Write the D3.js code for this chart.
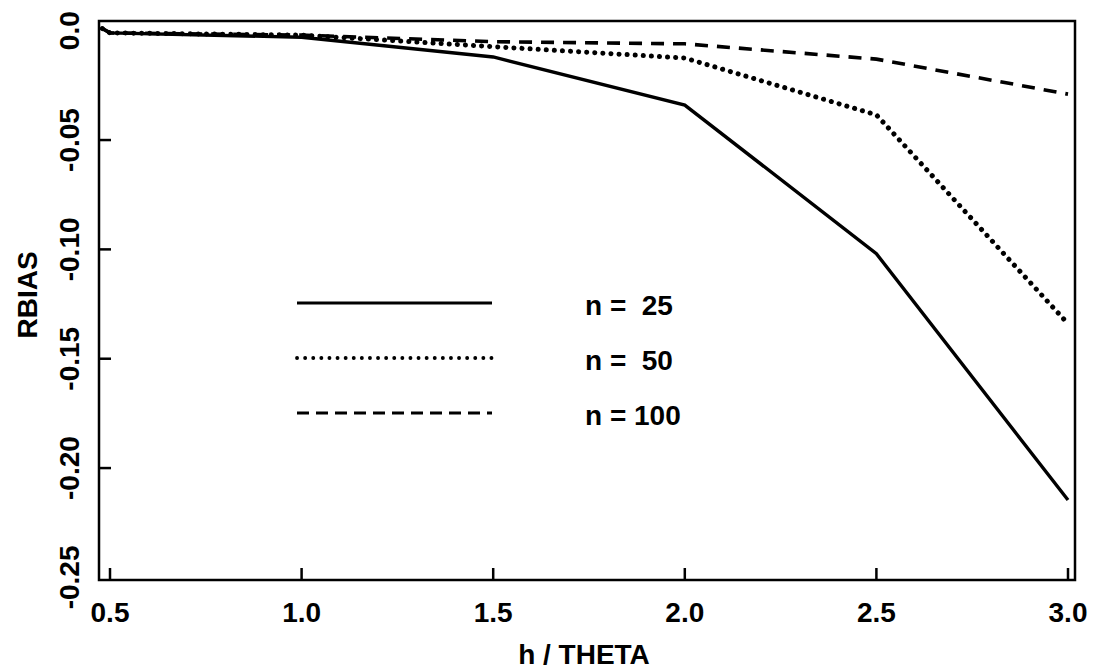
<!DOCTYPE html>
<html lang="en">
<head>
<meta charset="utf-8">
<title>RBIAS vs h / THETA</title>
<script src="https://cdn.jsdelivr.net/npm/d3@7"></script>
<style>
  body { margin: 0; background: #fff; }
  text { font-family: "Liberation Sans", Arial, sans-serif; fill: #000; font-weight: bold; }
  .frame { fill: none; stroke: #000; stroke-width: 2.5; }
  .tick-line { stroke: #000; stroke-width: 2.5; }
  .curve { fill: none; stroke: #000; }
</style>
</head>
<body>
<div id="chart"></div>
<script>
// ---- data ----
var hTheta = [0.48, 0.5, 1.0, 1.5, 2.0, 2.5, 3.0];
var rbias25  = [0.001, -0.001, -0.003, -0.012, -0.034, -0.102, -0.2146];
var rbias50  = [0.001, -0.001, -0.002, -0.0073, -0.0125, -0.0385, -0.134];
var rbias100 = [0.001, -0.001, -0.002, -0.005, -0.006, -0.013, -0.029];
var seriesNames = ["n =  25", "n =  50", "n = 100"];
var xTicks = [0.5, 1.0, 1.5, 2.0, 2.5, 3.0];
var yTicks = [0.0, -0.05, -0.10, -0.15, -0.20, -0.25];

var W = 1094, H = 671;
var frame = {left: 99, right: 1075, top: 21, bottom: 580};

var svg = d3.select("#chart").append("svg")
  .attr("width", W).attr("height", H);

var x = d3.scaleLinear().domain([0.5, 3.0]).range([110, 1068]);
var y = d3.scaleLinear().domain([0.0, -0.25]).range([30.7, 577.4]);

// clip curves to the frame
svg.append("clipPath").attr("id", "clip")
  .append("rect")
  .attr("x", frame.left).attr("y", frame.top)
  .attr("width", frame.right - frame.left)
  .attr("height", frame.bottom - frame.top);

// line styles: plot / legend
var series = [
  {name: seriesNames[0], vals: rbias25,  dash: null,    w: 3.4, cap: "butt",  legDash: null,    legW: 2.8},
  {name: seriesNames[1], vals: rbias50,  dash: "0.1 8", w: 5,   cap: "round", legDash: "0.1 8", legW: 3.8},
  {name: seriesNames[2], vals: rbias100, dash: "13 9",  w: 3.6, cap: "butt",  legDash: "12 7",  legW: 3}
];

var line = d3.line()
  .x(function(d) { return x(d[0]); })
  .y(function(d) { return y(d[1]); });

svg.append("g").attr("clip-path", "url(#clip)")
  .selectAll("path")
  .data(series).enter()
  .append("path")
  .attr("class", "curve")
  .attr("d", function(s) { return line(hTheta.map(function(h, i) { return [h, s.vals[i]]; })); })
  .attr("stroke-dasharray", function(s) { return s.dash; })
  .attr("stroke-linecap", function(s) { return s.cap; })
  .attr("stroke-width", function(s) { return s.w; });

// frame
svg.append("rect").attr("class", "frame")
  .attr("x", frame.left).attr("y", frame.top)
  .attr("width", frame.right - frame.left)
  .attr("height", frame.bottom - frame.top);

// x axis ticks (inward) and labels
var xAxis = svg.append("g");
xAxis.selectAll("line").data(xTicks).enter().append("line")
  .attr("class", "tick-line")
  .attr("x1", function(d) { return x(d); }).attr("x2", function(d) { return x(d); })
  .attr("y1", frame.bottom).attr("y2", frame.bottom - 12);
xAxis.selectAll("text").data(xTicks).enter().append("text")
  .attr("x", function(d) { return x(d); })
  .attr("y", 622)
  .attr("text-anchor", "middle")
  .style("font-size", "28px")
  .text(function(d) { return d.toFixed(1); });

// y axis ticks (inward) and rotated labels
var yAxis = svg.append("g");
yAxis.selectAll("line").data(yTicks.slice(1, 5)).enter().append("line")
  .attr("class", "tick-line")
  .attr("x1", frame.left).attr("x2", frame.left + 12)
  .attr("y1", function(d) { return y(d); }).attr("y2", function(d) { return y(d); });
yAxis.selectAll("text").data(yTicks).enter().append("text")
  .attr("transform", function(d) { return "translate(79," + y(d) + ") rotate(-90)"; })
  .attr("text-anchor", "middle")
  .style("font-size", "28px")
  .text(function(d) { return d === 0 ? "0.0" : d.toFixed(2); });

// axis titles
svg.append("text")
  .attr("x", 584).attr("y", 664)
  .attr("text-anchor", "middle")
  .style("font-size", "28px")
  .text("h / THETA");
svg.append("text")
  .attr("transform", "translate(37,295) rotate(-90)")
  .attr("text-anchor", "middle")
  .style("font-size", "28px")
  .text("RBIAS");

// legend
var legend = svg.selectAll(".legend").data(series).enter()
  .append("g").attr("class", "legend")
  .attr("transform", function(d, i) { return "translate(0," + (303 + i * 55) + ")"; });
legend.append("line")
  .attr("x1", 297).attr("x2", 492).attr("y1", 0).attr("y2", 0)
  .attr("stroke", "#000")
  .attr("stroke-width", function(s) { return s.legW; })
  .attr("stroke-linecap", function(s) { return s.cap; })
  .attr("stroke-dasharray", function(s) { return s.legDash; });
legend.append("text")
  .attr("x", 585).attr("y", 12)
  .style("font-size", "28px")
  .attr("xml:space", "preserve")
  .style("white-space", "pre")
  .text(function(d) { return d.name; });
</script>
</body>
</html>
